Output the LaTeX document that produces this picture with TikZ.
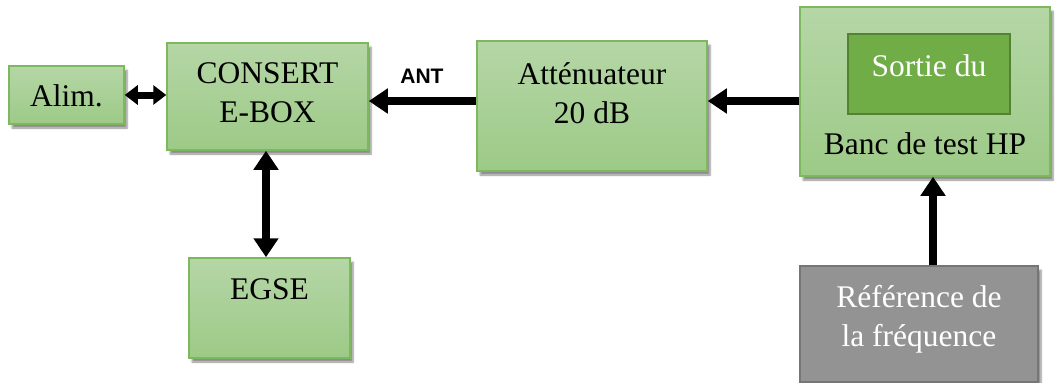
\documentclass[tikz,border=0pt]{standalone}
\usepackage{fontspec}
\setmainfont{Liberation Serif}
\newfontfamily\antfont{Liberation Sans}
\usetikzlibrary{arrows.meta,shadows.blur,calc}
\definecolor{gtop}{HTML}{B5D6A6}
\definecolor{gbot}{HTML}{9DCA87}
\definecolor{gline}{HTML}{7DB75E}
\definecolor{ginner}{HTML}{70AD47}
\definecolor{ginline}{HTML}{548235}
\definecolor{grayfill}{HTML}{939393}
\definecolor{grayline}{HTML}{767676}
\tikzset{
  greenbox/.style={draw=gline, line width=1.5pt, top color=gtop, bottom color=gbot, inner sep=0pt,
    blur shadow={shadow xshift=3pt, shadow yshift=-4pt, shadow blur steps=6, shadow opacity=45}},
  innerbox/.style={draw=ginline, line width=1.5pt, fill=ginner, inner sep=0pt},
  graybox/.style={draw=grayline, line width=1.5pt, fill=grayfill, inner sep=0pt,
    blur shadow={shadow xshift=3pt, shadow yshift=-4pt, shadow blur steps=6, shadow opacity=45}},
  boxtext/.style={font=\fontsize{31.5}{39}\selectfont, align=center, inner sep=0pt},
  thickarrow/.style={line width=8pt, -{Triangle[length=19pt,width=24pt]}},
  dblarrow/.style={line width=8pt, {Triangle[length=19pt,width=24pt]}-{Triangle[length=19pt,width=24pt]}},
  shortdbl/.style={line width=7pt, {Triangle[length=13pt,width=19pt]}-{Triangle[length=13pt,width=19pt]}},
}
\begin{document}
\begin{tikzpicture}[x=1pt,y=-1pt]
\useasboundingbox (0,0) rectangle (1058,383);
% boxes
\node[greenbox, minimum width=115pt, minimum height=58pt] (alim) at (66.5,95) {};
\node[greenbox, minimum width=201pt, minimum height=107pt] (consert) at (267.5,96.5) {};
\node[greenbox, minimum width=230pt, minimum height=130pt] (att) at (592,106) {};
\node[greenbox, minimum width=250pt, minimum height=169pt] (hp) at (925,91.5) {};
\node[innerbox, minimum width=162pt, minimum height=80pt] (sortie) at (929,74) {};
\node[greenbox, minimum width=161pt, minimum height=100pt] (egse) at (269.5,308) {};
\node[graybox, minimum width=238pt, minimum height=116pt] (ref) at (919,324) {};
% texts
\node[boxtext] (talim) at (66.5,96) {Alim.};
\node[boxtext] (tconsert) at (267.5,93) {CONSERT\\E-BOX};
\node[boxtext] (tatt) at (592,93) {Atténuateur\\20 dB};
\node[boxtext, text=white] (tsortie) at (929,66) {Sortie du};
\node[boxtext] (thp) at (925,144) {Banc de test HP};
\node[boxtext] (tegse) at (269.5,289) {EGSE};
\node[boxtext, text=white] (tref) at (919,319) {Référence de\\la fréquence};
\node[font=\antfont\bfseries\fontsize{21}{24}\selectfont, inner sep=0pt] (ant) at (422,76) {ANT};
% connectors
\coordinate (ya) at (0,95);
\coordinate (yb) at (0,101);
\coordinate (xc) at (266,0);
\coordinate (xd) at (933,0);
\draw[shortdbl] (alim.east |- ya) -- (consert.west |- ya);
\draw[thickarrow] (att.west |- yb) -- (consert.east |- yb);
\draw[thickarrow] (hp.west |- yb) -- (att.east |- yb);
\draw[dblarrow] (consert.south -| xc) -- (egse.north -| xc);
\draw[thickarrow] (ref.north -| xd) -- (hp.south -| xd);
\end{tikzpicture}
\end{document}
